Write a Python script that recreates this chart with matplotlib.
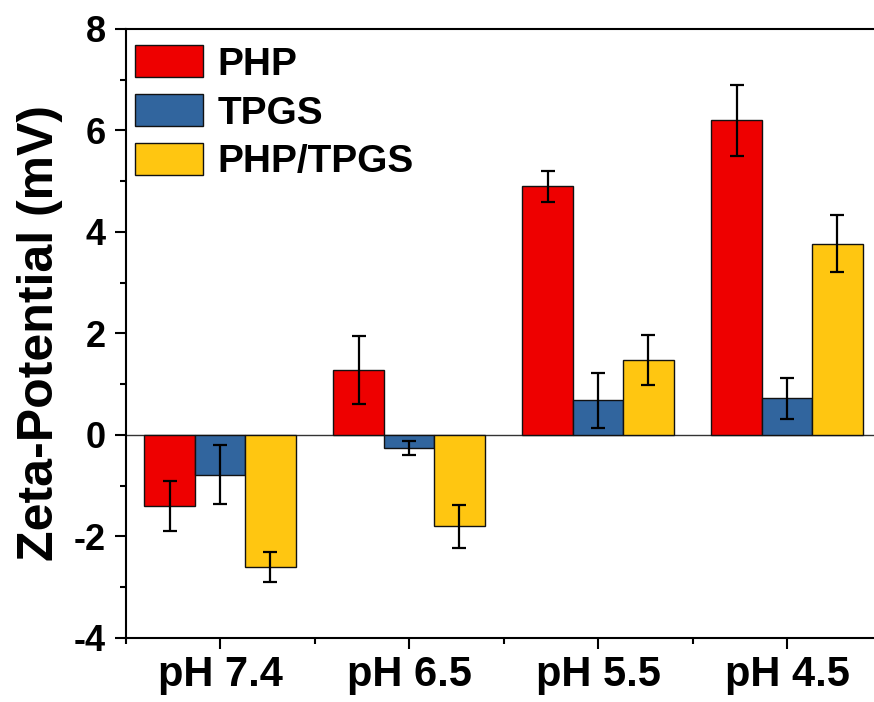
import numpy as np
import matplotlib
matplotlib.use("Agg")
import matplotlib.pyplot as plt
from matplotlib.ticker import MultipleLocator

# data
groups = ["pH 7.4", "pH 6.5", "pH 5.5", "pH 4.5"]
series = ["PHP", "TPGS", "PHP/TPGS"]
php = [-1.40, 1.28, 4.90, 6.20]
php_err = [0.50, 0.67, 0.30, 0.70]
tpgs = [-0.78, -0.25, 0.68, 0.72]
tpgs_err = [0.58, 0.14, 0.55, 0.40]
mix = [-2.60, -1.80, 1.48, 3.77]
mix_err = [0.30, 0.43, 0.50, 0.56]

colors = ["#EE0000", "#31659E", "#FFC611"]

plt.rcParams["font.family"] = ["Liberation Sans", "DejaVu Sans"]
plt.rcParams["font.weight"] = "bold"
plt.rcParams["axes.unicode_minus"] = False

fig = plt.figure(figsize=(8.74, 7.02), dpi=100)
ax = fig.add_axes([0.1436, 0.0912, 0.865, 0.8675])

x = np.arange(len(groups))
width = 0.267
values = [php, tpgs, mix]
errors = [php_err, tpgs_err, mix_err]

ax.axhline(0, color="#333333", lw=1.0, zorder=1)

for i, (vals, errs, name, c) in enumerate(zip(values, errors, series, colors)):
    ax.bar(x + (i - 1) * width, vals, width, color=c, edgecolor="#111111",
           linewidth=1.0, label=name, zorder=2,
           yerr=errs, capsize=5, error_kw=dict(elinewidth=1.6, capthick=1.6, ecolor="black"))

ax.set_xlim(-0.5, 3.5)
ax.set_ylim(-4, 8)
ax.set_xticks(x)
ax.set_xticklabels(groups)
ax.xaxis.set_minor_locator(MultipleLocator(0.5))
ax.yaxis.set_major_locator(MultipleLocator(2))
ax.yaxis.set_minor_locator(MultipleLocator(1))

for s in ax.spines.values():
    s.set_linewidth(1.5)

ax.tick_params(axis="both", which="major", direction="out", length=8, width=1.5)
ax.tick_params(axis="both", which="minor", direction="out", length=4, width=1.5)
ax.tick_params(axis="x", which="major", labelsize=30, pad=4)
ax.tick_params(axis="y", which="major", labelsize=26, pad=6)

ax.set_ylabel("Zeta-Potential (mV)", fontsize=36, fontweight="bold", labelpad=8)

ax.legend(loc="upper left", bbox_to_anchor=(0.012, 0.973), frameon=False,
          fontsize=28, handlelength=1.77, handleheight=0.87,
          handletextpad=0.36, labelspacing=0.3, borderpad=0, borderaxespad=0)

fig.savefig("out.png", dpi=100)
